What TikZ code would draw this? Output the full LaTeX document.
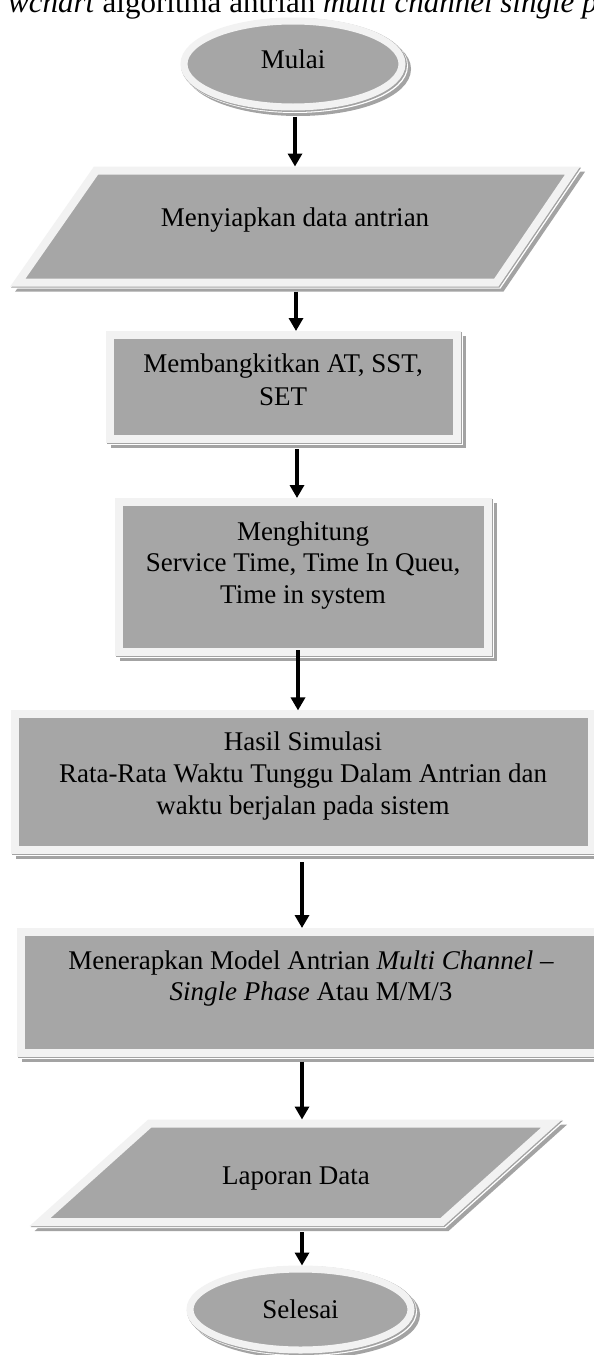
\documentclass[tikz,border=0pt]{standalone}
\usepackage{fontspec}
\setmainfont{Liberation Serif}
\usetikzlibrary{shapes.geometric,arrows.meta,calc}
\definecolor{fillg}{HTML}{A6A6A6}
\definecolor{ringg}{HTML}{F2F2F2}
\definecolor{shadg}{HTML}{A3A3A3}
\tikzset{
  shp/.style={draw=ringg, fill=fillg, line width=8pt,
    preaction={draw=shadg, fill=shadg, line width=8pt, transform canvas={shift={(5pt,-5pt)}}},
    preaction={draw=white, fill=white, line width=8pt, transform canvas={shift={(2pt,-2pt)}}},
    preaction={draw=shadg, fill=shadg, line width=8pt, transform canvas={shift={(1pt,-1pt)}}}},
  rbox/.style={shp, rectangle, inner sep=0pt},
  ebox/.style={shp, ellipse, inner sep=0pt, line width=7pt},
  txt/.style={anchor=base, inner sep=0pt, font=\fontsize{27}{32.3}\selectfont},
  captxt/.style={anchor=base west, inner sep=0pt, font=\fontsize{31}{37}\selectfont},
  arr/.style={line width=4.5pt, -{Triangle[width=14pt,length=13pt]}},
}
\begin{document}
\begin{tikzpicture}[x=1pt,y=-1pt]
\useasboundingbox (0,0) rectangle (594,1355);
\fill[white] (0,0) rectangle (594,1355);
% caption (cut at top)
\node[captxt] (t0) at (8,12.5) {\textit{wchart} algoritma antrian \textit{multi channel single p}};
% shapes
\node[ebox, minimum width=218pt, minimum height=86pt] (s1) at (293,64) {};
% parallelogram 1
\coordinate (p2a) at (17.9,282.5);
\coordinate (p2b) at (496.4,282.5);
\coordinate (p2c) at (572.6,170.5);
\coordinate (p2d) at (96.1,170.5);
\path[shp] (p2a) -- (p2b) -- (p2c) -- (p2d) -- cycle;
\coordinate (s2n) at ($(p2d)!0.5!(p2c)+(0,-4)$);
\coordinate (s2s) at ($(p2a)!0.5!(p2b)+(0,4)$);
\node[rbox, minimum width=347pt, minimum height=104pt] (s3) at (283,387) {};
\node[rbox, minimum width=369pt, minimum height=150pt] (s4) at (303.5,577) {};
\node[rbox, minimum width=577pt, minimum height=136pt] (s5) at (303.5,782.4) {};
\node[rbox, minimum width=580.5pt, minimum height=120.5pt] (s6) at (310.75,992.25) {};
% parallelogram 2
\coordinate (p7a) at (40.1,1222);
\coordinate (p7b) at (442,1222);
\coordinate (p7c) at (551.7,1123.5);
\coordinate (p7d) at (149.8,1123.5);
\path[shp] (p7a) -- (p7b) -- (p7c) -- (p7d) -- cycle;
\coordinate (s7n) at ($(p7d)!0.5!(p7c)+(0,-4)$);
\coordinate (s7s) at ($(p7a)!0.5!(p7b)+(0,4)$);
\node[ebox, minimum width=221pt, minimum height=81pt] (s8) at (300.5,1309.5) {};
% texts
\node[txt] (t1) at (293,68) {Mulai};
\node[txt] (t2) at (295,226) {Menyiapkan data antrian};
\node[txt] (t3) at (283,372) {\begin{tabular}[t]{@{}c@{}}Membangkitkan AT, SST,\\[0.7pt]SET\end{tabular}};
\node[txt] (t4) at (303,540) {\begin{tabular}[t]{@{}c@{}}Menghitung\\[-0.8pt]Service Time, Time In Queu,\\[-0.8pt]Time in system\end{tabular}};
\node[txt] (t5) at (303,750) {\begin{tabular}[t]{@{}c@{}}Hasil Simulasi\\Rata-Rata Waktu Tunggu Dalam Antrian dan\\waktu berjalan pada sistem\end{tabular}};
\node[txt] (t6) at (311,969) {\begin{tabular}[t]{@{}c@{}}Menerapkan Model Antrian \textit{Multi Channel} --\\[-0.8pt]\textit{Single Phase} Atau M/M/3\end{tabular}};
\node[txt] (t7) at (296,1184) {Laporan Data};
\node[txt] (t8) at (300.5,1318) {Selesai};
% arrow columns
\coordinate (a1) at (295,0);
\coordinate (a2) at (296,0);
\coordinate (a3) at (297,0);
\coordinate (a4) at (298,0);
\coordinate (a5) at (302,0);
\coordinate (a6) at (302,0);
\coordinate (a7) at (302,0);
\draw[arr] ($(s1.south -| a1)+(0,6)$) -- (s2n -| a1);
\draw[arr] ($(s2s -| a2)+(0,5)$) -- (s3.north -| a2);
\draw[arr] ($(s3.south -| a3)+(0,6)$) -- (s4.north -| a3);
\draw[arr] ($(s4.south -| a4)+(0,-6)$) -- (s5.north -| a4);
\draw[arr] ($(s5.south -| a5)+(0,8)$) -- (s6.north -| a5);
\draw[arr] ($(s6.south -| a6)+(0,5)$) -- (s7n -| a6);
\draw[arr] ($(s7s -| a7)+(0,6)$) -- (s8.north -| a7);
\end{tikzpicture}
\end{document}
